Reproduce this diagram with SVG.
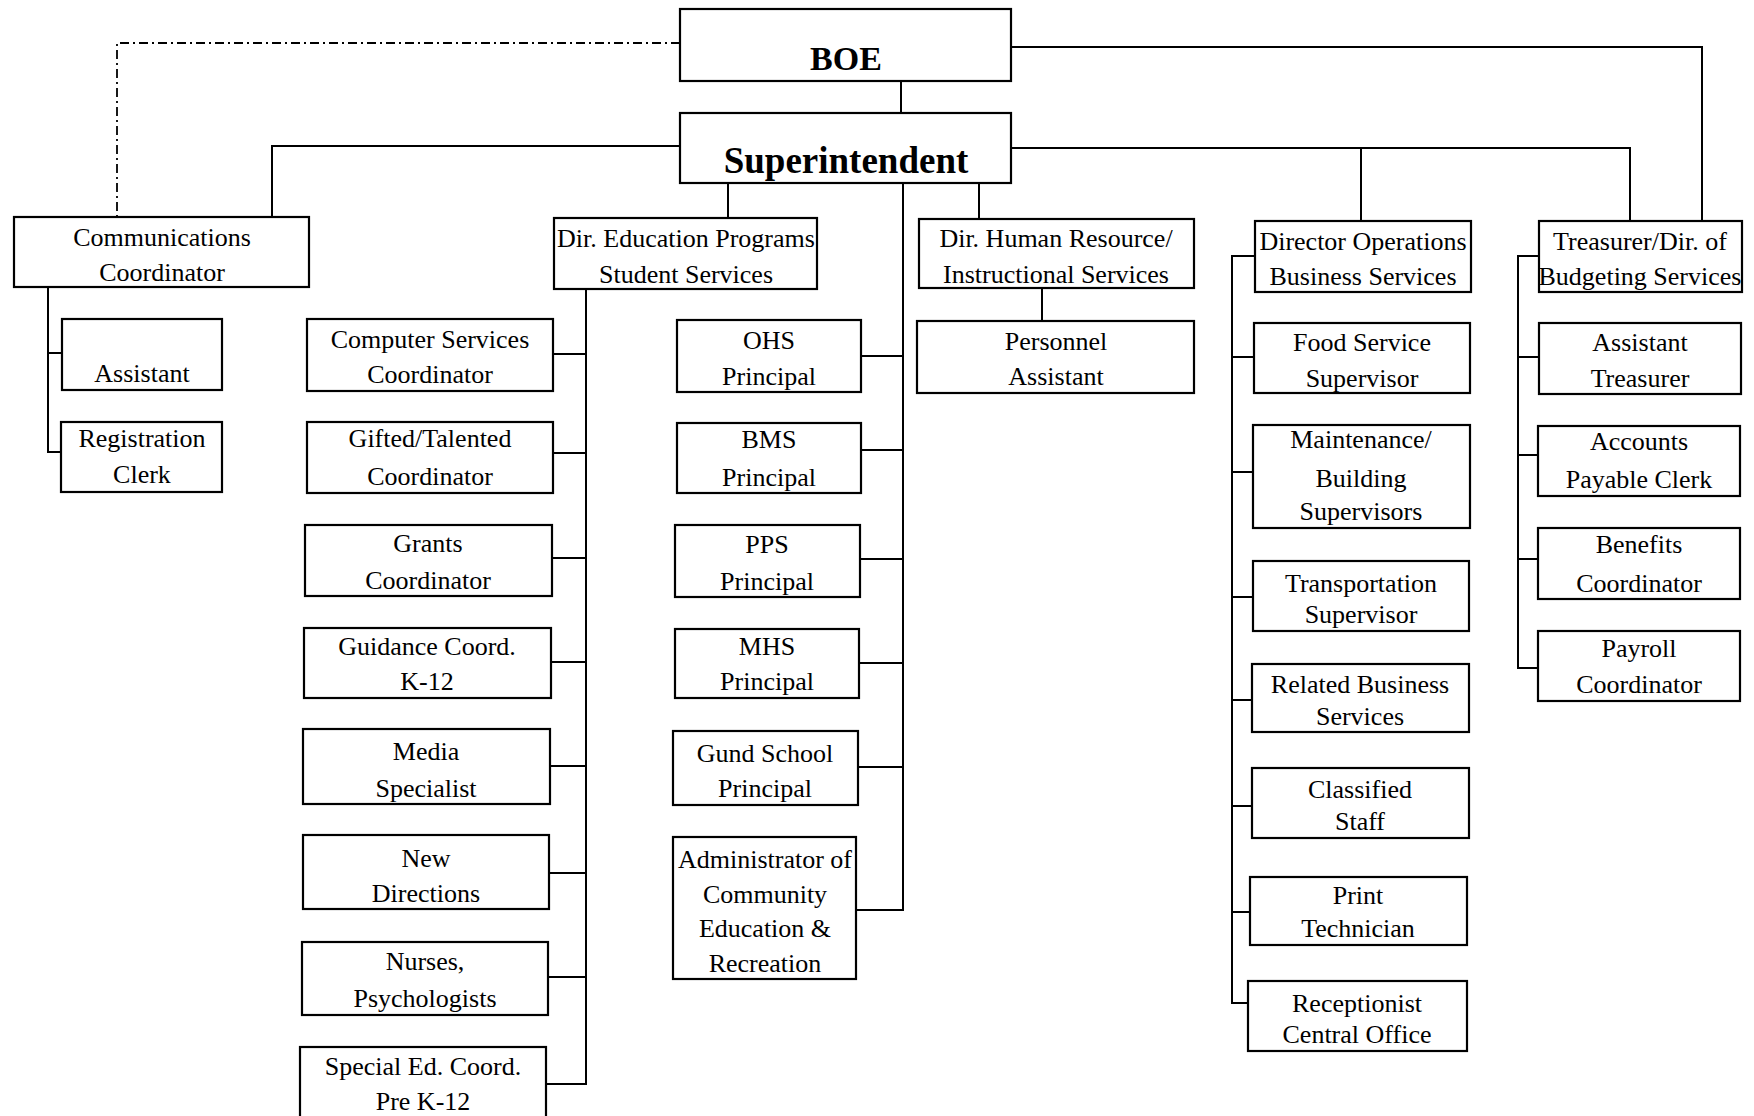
<svg xmlns="http://www.w3.org/2000/svg" width="1754" height="1116" viewBox="0 0 1754 1116">
<style>
rect{fill:#fff;stroke:#000;stroke-width:2.2}
text{font-family:"Liberation Serif","Times New Roman",serif;font-size:26px;text-anchor:middle;fill:#000}
.b{font-weight:bold}
#connectors path{fill:none;stroke:#000;stroke-width:2}
#connectors .d{stroke-dasharray:9 4 2 4;stroke-width:1.8}
</style>
<rect x="0" y="0" width="1754" height="1116" style="fill:#fff;stroke:none"/>
<g id="connectors">
<path class="d" d="M680,43 H117 V217"/>
<path d="M1011,47 H1702 V221"/>
<path d="M901,81 V113"/>
<path d="M680,146 H272 V217"/>
<path d="M1011,148 H1630 V221 M1361,148 V221"/>
<path d="M728,183 V218"/>
<path d="M979,183 V219"/>
<path d="M1042,288 V321"/>
<path d="M903,183 V910 H856 M861,356 H903 M861,450 H903 M860,559 H903 M859,663 H903 M858,767 H903"/>
<path d="M48,287 V452 H61 M48,353 H62"/>
<path d="M586,289 V1084 H546 M553,354 H586 M553,453 H586 M552,558 H586 M551,662 H586 M550,766 H586 M549,873 H586 M548,977 H586"/>
<path d="M1255,256 H1232 V1003 H1248 M1232,357 H1254 M1232,472 H1253 M1232,597 H1253 M1232,700 H1252 M1232,806 H1252 M1232,912 H1250"/>
<path d="M1539,256 H1518 V668 H1538 M1518,357 H1539 M1518,455 H1538 M1518,559 H1538"/>
</g>
<g id="boe"><rect x="680" y="9" width="331" height="72"/><text class="b" x="846" y="70" style="font-size:34px">BOE</text></g>
<g id="superintendent"><rect x="680" y="113" width="331" height="70"/><text class="b" x="846" y="173" style="font-size:37px">Superintendent</text></g>
<g id="comms"><rect x="14" y="217" width="295" height="70"/><text x="162" y="246">Communications</text><text x="162" y="281">Coordinator</text></g>
<g id="comms-assistant"><rect x="62" y="319" width="160" height="71"/><text x="142" y="382">Assistant</text></g>
<g id="registration"><rect x="61" y="422" width="161" height="70"/><text x="142" y="447">Registration</text><text x="142" y="483">Clerk</text></g>
<g id="dir-ed"><rect x="554" y="218" width="263" height="71"/><text x="686" y="247">Dir. Education Programs</text><text x="686" y="283">Student Services</text></g>
<g id="computer"><rect x="307" y="319" width="246" height="72"/><text x="430" y="348">Computer Services</text><text x="430" y="383">Coordinator</text></g>
<g id="gifted"><rect x="307" y="422" width="246" height="71"/><text x="430" y="447">Gifted/Talented</text><text x="430" y="485">Coordinator</text></g>
<g id="grants"><rect x="305" y="525" width="247" height="71"/><text x="428" y="552">Grants</text><text x="428" y="589">Coordinator</text></g>
<g id="guidance"><rect x="304" y="628" width="247" height="70"/><text x="427" y="655">Guidance Coord.</text><text x="427" y="690">K-12</text></g>
<g id="media"><rect x="303" y="729" width="247" height="75"/><text x="426" y="760">Media</text><text x="426" y="797">Specialist</text></g>
<g id="new-directions"><rect x="303" y="835" width="246" height="74"/><text x="426" y="867">New</text><text x="426" y="902">Directions</text></g>
<g id="nurses"><rect x="302" y="942" width="246" height="73"/><text x="425" y="970">Nurses,</text><text x="425" y="1007">Psychologists</text></g>
<g id="special-ed"><rect x="300" y="1047" width="246" height="90"/><text x="423" y="1075">Special Ed. Coord.</text><text x="423" y="1110">Pre K-12</text></g>
<g id="ohs"><rect x="677" y="320" width="184" height="72"/><text x="769" y="349">OHS</text><text x="769" y="385">Principal</text></g>
<g id="bms"><rect x="677" y="423" width="184" height="70"/><text x="769" y="448">BMS</text><text x="769" y="486">Principal</text></g>
<g id="pps"><rect x="675" y="525" width="185" height="72"/><text x="767" y="553">PPS</text><text x="767" y="590">Principal</text></g>
<g id="mhs"><rect x="675" y="629" width="184" height="69"/><text x="767" y="655">MHS</text><text x="767" y="690">Principal</text></g>
<g id="gund"><rect x="673" y="731" width="185" height="74"/><text x="765" y="762">Gund School</text><text x="765" y="797">Principal</text></g>
<g id="admin"><rect x="673" y="837" width="183" height="142"/><text x="765" y="868">Administrator of</text><text x="765" y="903">Community</text><text x="765" y="937">Education &amp;</text><text x="765" y="972">Recreation</text></g>
<g id="dir-hr"><rect x="919" y="219" width="275" height="69"/><text x="1056" y="247">Dir. Human Resource/</text><text x="1056" y="283">Instructional Services</text></g>
<g id="personnel"><rect x="917" y="321" width="277" height="72"/><text x="1056" y="350">Personnel</text><text x="1056" y="385">Assistant</text></g>
<g id="dir-ops"><rect x="1255" y="221" width="216" height="71"/><text x="1363" y="250">Director Operations</text><text x="1363" y="285">Business Services</text></g>
<g id="food"><rect x="1254" y="323" width="216" height="70"/><text x="1362" y="351">Food Service</text><text x="1362" y="387">Supervisor</text></g>
<g id="maintenance"><rect x="1253" y="425" width="217" height="103"/><text x="1361" y="448">Maintenance/</text><text x="1361" y="487">Building</text><text x="1361" y="520">Supervisors</text></g>
<g id="transportation"><rect x="1253" y="561" width="216" height="70"/><text x="1361" y="592">Transportation</text><text x="1361" y="623">Supervisor</text></g>
<g id="related"><rect x="1252" y="664" width="217" height="68"/><text x="1360" y="693">Related Business</text><text x="1360" y="725">Services</text></g>
<g id="classified"><rect x="1252" y="768" width="217" height="70"/><text x="1360" y="798">Classified</text><text x="1360" y="830">Staff</text></g>
<g id="print"><rect x="1250" y="877" width="217" height="68"/><text x="1358" y="904">Print</text><text x="1358" y="937">Technician</text></g>
<g id="receptionist"><rect x="1248" y="981" width="219" height="70"/><text x="1357" y="1012">Receptionist</text><text x="1357" y="1043">Central Office</text></g>
<g id="treasurer"><rect x="1539" y="221" width="203" height="71"/><text x="1640" y="250">Treasurer/Dir. of</text><text x="1640" y="285">Budgeting Services</text></g>
<g id="asst-treasurer"><rect x="1539" y="323" width="202" height="71"/><text x="1640" y="351">Assistant</text><text x="1640" y="387">Treasurer</text></g>
<g id="accounts"><rect x="1538" y="426" width="202" height="70"/><text x="1639" y="450">Accounts</text><text x="1639" y="488">Payable Clerk</text></g>
<g id="benefits"><rect x="1538" y="528" width="202" height="71"/><text x="1639" y="553">Benefits</text><text x="1639" y="592">Coordinator</text></g>
<g id="payroll"><rect x="1538" y="631" width="202" height="70"/><text x="1639" y="657">Payroll</text><text x="1639" y="693">Coordinator</text></g>
</svg>
